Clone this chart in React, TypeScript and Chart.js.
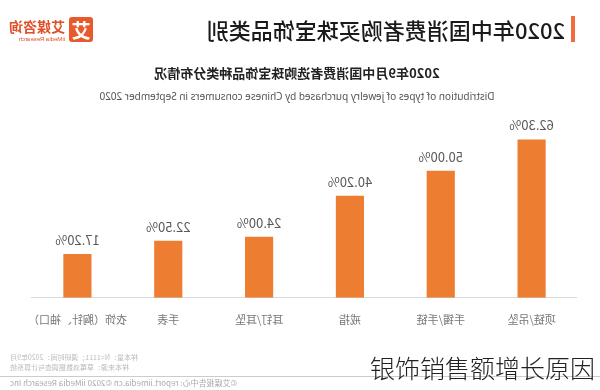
import React, { useEffect, useRef } from "react";
import { Chart, registerables } from "chart.js";

Chart.register(...registerables);

const categories = ["项链/吊坠", "手镯/手链", "戒指", "耳钉/耳坠", "手表", "衣饰（胸针、袖口）"];
const shares = [62.3, 50.0, 40.2, 24.0, 22.5, 17.2];

const titleText = "2020年中国消费者购买珠宝饰品类别";
const subtitleText = "2020年9月中国消费者选购珠宝饰品种类分布情况";
const subtitleEn = "Distribution of types of jewelry purchased by Chinese consumers in September 2020";
const footnotes = ["样本量：N=1111；调研时间：2020年9月", "样本来源：草莓派数据调查与计算系统"];
const footerText = "©艾媒报告中心: report.iimedia.cn  ©2020  iiMedia Research Inc";
const watermark = "银饰销售额增长原因";

const CJK = '"Noto Sans CJK SC", "Noto Sans", sans-serif';

const valueLabels = {
  id: "valueLabels",
  afterDatasetsDraw(chart: any) {
    const ctx = chart.ctx;
    const meta = chart.getDatasetMeta(0);
    ctx.save();
    ctx.font = `13px ${CJK}`;
    ctx.fillStyle = "#595959";
    ctx.textAlign = "center";
    ctx.textBaseline = "middle";
    meta.data.forEach((bar: any, i: number) => {
      const v = chart.data.datasets[0].data[i] as number;
      ctx.fillText(v.toFixed(2) + "%", bar.x, bar.y - 14);
    });
    ctx.restore();
  },
};

export default function App() {
  const ref = useRef<HTMLCanvasElement | null>(null);

  useEffect(() => {
    if (!ref.current) return;
    const chart = new Chart(ref.current, {
      type: "bar",
      data: {
        labels: categories,
        datasets: [
          {
            data: shares,
            backgroundColor: "#ED7D31",
            barPercentage: 0.31,
            categoryPercentage: 1,
          },
        ],
      },
      options: {
        animation: false,
        responsive: false,
        layout: { padding: { left: 23, right: 32, top: 120, bottom: 49 } },
        plugins: { legend: { display: false }, tooltip: { enabled: false } },
        scales: {
          x: {
            grid: { display: false, drawTicks: false },
            border: { display: true, color: "#d9d9d9", width: 1 },
            ticks: { color: "#777", padding: 15, font: { size: 11, family: CJK }, maxRotation: 0, autoSkip: false },
          },
          y: {
            display: false,
            min: 0,
            max: 70,
          },
        },
      },
      plugins: [valueLabels],
    });
    return () => chart.destroy();
  }, []);

  const abs = (s: any) => ({ position: "absolute", ...s } as React.CSSProperties);

  return (
    <>
      <div style={abs({ left: 0, top: 0, width: 600, height: 390, background: "#fff", transform: "scaleX(-1)", overflow: "hidden" })}>
        <canvas ref={ref} width={600} height={390} style={abs({ left: 0, top: 0, width: 600, height: 390 })} />
        <div style={abs({ left: 25, top: 16, width: 4, height: 26, background: "#F26B3A" })} />
        <div style={abs({ left: 35, top: 14, height: 30, lineHeight: "30px", fontSize: 22, fontWeight: 500, color: "#1a1a1a", fontFamily: CJK, whiteSpace: "nowrap" })}>{titleText}</div>
        <div style={abs({ left: 507, top: 17, width: 24, height: 25, background: "#E85A2C", borderRadius: 3, color: "#fff", fontSize: 19, fontWeight: 700, lineHeight: "25px", textAlign: "center", fontFamily: CJK })}>艾</div>
        <div style={abs({ left: 535, top: 18, fontSize: 14, lineHeight: "16px", fontWeight: 700, color: "#E0502A", fontFamily: CJK, whiteSpace: "nowrap" })}>艾媒咨询</div>
        <div style={abs({ left: 535, top: 35, fontSize: 6, lineHeight: "8px", color: "#E0502A", fontFamily: "Arial, sans-serif", whiteSpace: "nowrap" })}>iiMedia Research</div>
        <div style={abs({ left: 0, top: 64, width: 606, textAlign: "center", fontSize: 13, lineHeight: "18px", fontWeight: 700, color: "#222", fontFamily: CJK })}>{subtitleText}</div>
        <div style={abs({ left: 0, top: 89, width: 606, textAlign: "center", fontSize: 10, lineHeight: "14px", color: "#555", fontFamily: '"Noto Sans", sans-serif' })}>{subtitleEn}</div>
        <div style={abs({ right: 10, top: 352, textAlign: "right", fontSize: 7, lineHeight: "10px", color: "#bbb", fontFamily: CJK, whiteSpace: "nowrap" })}>
          {footnotes.map((f, i) => (
            <div key={i}>{f}</div>
          ))}
        </div>
        <div style={abs({ left: 0, top: 376, width: 600, height: 1, background: "#ccc" })} />
        <div style={abs({ right: 10, top: 378, fontSize: 8, lineHeight: "10px", color: "#aaa", fontFamily: CJK, whiteSpace: "nowrap" })}>{footerText}</div>
      </div>
      <div style={abs({ left: 370, top: 352, fontSize: 25, lineHeight: "30px", fontWeight: 300, color: "#222", fontFamily: CJK, whiteSpace: "nowrap" })}>{watermark}</div>
    </>
  );
}
